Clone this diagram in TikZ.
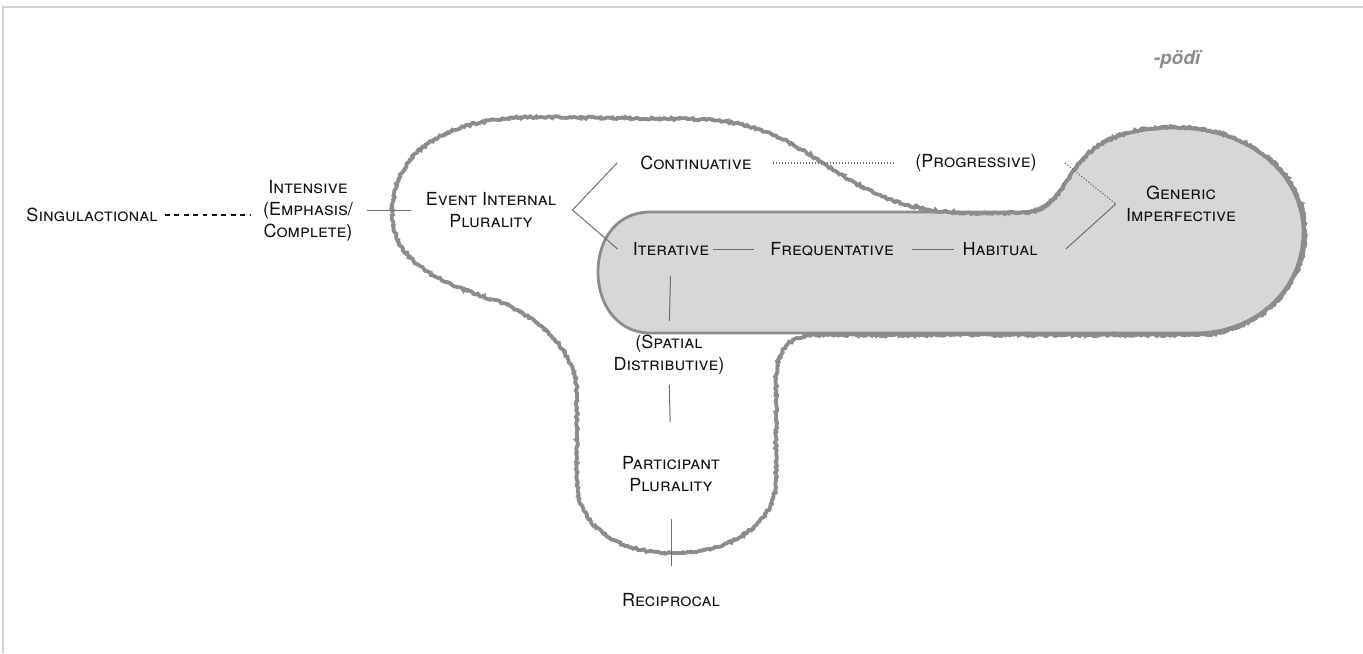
\documentclass[tikz,border=0pt]{standalone}
\usepackage{fontspec}
\setmainfont{TeX Gyre Heros}
\usepackage{tikz}
\usetikzlibrary{positioning,decorations.pathmorphing}
\definecolor{rim}{HTML}{8C8C8C}
\definecolor{core}{HTML}{D7D7D7}
\definecolor{ink}{HTML}{111111}
\definecolor{wire}{HTML}{6E6E6E}
\definecolor{frame}{HTML}{D0D0D0}

\begin{document}
\begin{tikzpicture}[
		x=0.5pt,
		y=-0.5pt,
		lbl/.style={
			align=center,
			font=\fontsize{9}{11}\selectfont\scshape,
			text=ink,
			inner sep=0pt
		},
		link/.style={draw=wire,line width=0.5pt},
		dots/.style={draw=wire,line width=0.6pt,dash pattern=on 0.6pt off 0.9pt},
		dashes/.style={draw=ink,line width=0.6pt,dash pattern=on 2.4pt off 2.3pt},
		rough/.style={
			draw=rim,
			line width=1.9pt,
			decorate,
			decoration={random steps,segment length=1pt,amplitude=0.55pt}
		},
		coreshape/.style={draw=rim,line width=1.4pt}
		]
		
		\useasboundingbox (0,0) rectangle (1363,653);
		\draw[frame,line width=0.8pt] (3,653) -- (3,7) -- (1363,7);
		
		\fill[core] (650,212) -- (1020,212) .. controls (1050,212) and (1060,190) .. (1075,168)
			.. controls (1095,140) and (1130,128) .. (1175,128)
			.. controls (1250,128) and (1303,175) .. (1303,232)
			.. controls (1303,290) and (1255,333) .. (1195,333) -- (650,333)
			.. controls (618,333) and (598,305) .. (598,272)
			.. controls (598,238) and (618,212) .. (650,212) -- cycle;
		
		\draw[rough] (392,213) .. controls (394,150) and (445,117) .. (540,117)
			-- (690,119) .. controls (770,120) and (800,150) .. (850,180)
			.. controls (890,203) and (920,213) .. (980,213)
			-- (1020,213) .. controls (1050,213) and (1061,190) .. (1076,168)
			.. controls (1096,139) and (1130,127) .. (1175,127)
			.. controls (1251,127) and (1305,175) .. (1305,232)
			.. controls (1305,291) and (1255,335) .. (1195,335)
			-- (815,335) .. controls (790,335) and (776,350) .. (776,378)
			-- (776,480) .. controls (776,525) and (730,553) .. (672,553)
			.. controls (615,553) and (577,525) .. (577,480)
			-- (577,395) .. controls (577,360) and (555,330) .. (510,306)
			.. controls (470,290) and (392,275) .. (392,213) -- cycle;
		
		\draw[coreshape] (650,212) -- (1020,212) .. controls (1050,212) and (1060,190) .. (1075,168)
			.. controls (1095,140) and (1130,128) .. (1175,128)
			.. controls (1250,128) and (1303,175) .. (1303,232)
			.. controls (1303,290) and (1255,333) .. (1195,333) -- (650,333)
			.. controls (618,333) and (598,305) .. (598,272)
			.. controls (598,238) and (618,212) .. (650,212) -- cycle;
		
		\node[lbl] (singul) at (92,215) {Singulactional};
		\node[lbl] (intens) at (308,211) {Intensive\\(Emphasis/\\Complete)};
		\node[lbl] (evint) at (491,210) {Event Internal\\Plurality};
		\node[lbl] (contin) at (696,163) {Continuative};
		\node[lbl] (progr) at (976,163) {(Progressive)};
		\node[lbl] (iter) at (671,249) {Iterative};
		\node[lbl] (freq) at (832,249) {Frequentative};
		\node[lbl] (habit) at (1000,249) {Habitual};
		\node[lbl] (generic) at (1181,204) {Generic\\Imperfective};
		\node[lbl] (spatial) at (669,355) {(Spatial\\Distributive)};
		\node[lbl] (partic) at (671,474) {Participant\\Plurality};
		\node[lbl] (recip) at (671,600) {Reciprocal};
		\node[text=rim,font=\fontsize{9.5}{11}\selectfont\bfseries\itshape] (podi) at (1177,60) {-pödï};
		
		\coordinate[right=8pt of evint.east] (fork);
		\coordinate[left=5pt of generic.west] (gfork);
		
		\draw[dashes,shorten <=3.5pt,shorten >=6.5pt] (singul.east) -- (singul.east -| intens.west);
		\draw[link,shorten <=7pt,shorten >=7.5pt] (intens.east |- evint.west) -- (evint.west);
		\draw[link] ([xshift=-11.5pt]contin.west) -- (fork) -- ([xshift=-7.5pt]iter.west);
		\draw[dots,shorten <=10.5pt,shorten >=10pt] (contin.east) -- (progr.west);
		\draw[link,shorten <=2pt,shorten >=8pt] (iter.east) -- (freq.west);
		\draw[link,shorten <=9pt,shorten >=4pt] (freq.east) -- (habit.west);
		\draw[dots] ([xshift=14pt]progr.east) -- (gfork);
		\draw[link] (gfork) -- ([xshift=14pt]habit.east);
		\draw[link,shorten <=10pt,shorten >=7pt] (iter.south) -- (spatial.north);
		\draw[link,shorten <=5pt,shorten >=17pt] (spatial.south) -- (partic.north);
		\draw[link,shorten <=13.5pt,shorten >=13.5pt] (partic.south) -- (recip.north);
		
	\end{tikzpicture}
\end{document}
